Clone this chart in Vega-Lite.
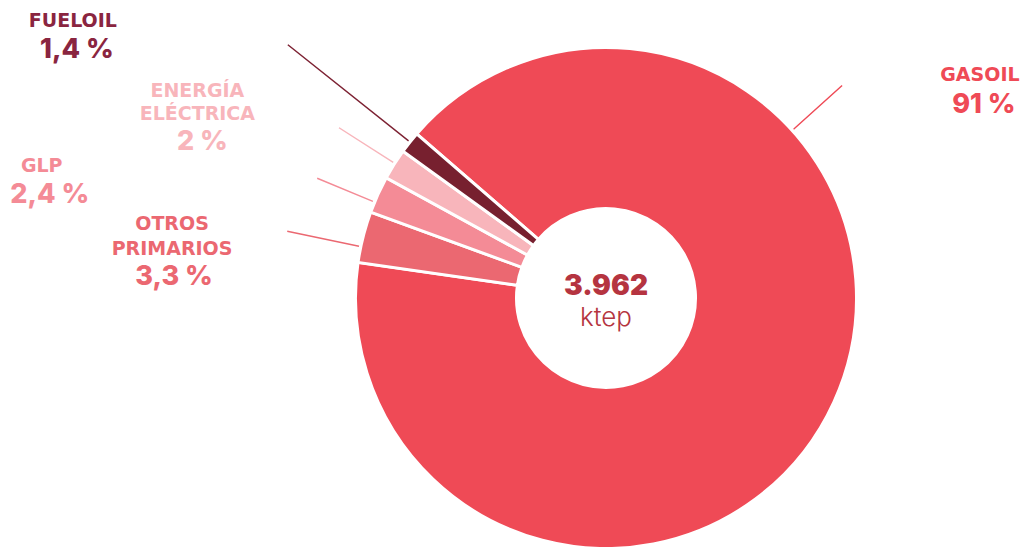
{
  "$schema": "https://vega.github.io/schema/vega-lite/v6.json",
  "width": 500,
  "height": 496,
  "padding": {"left": 356, "top": 50, "right": 165, "bottom": 1},
  "autosize": {"type": "none"},
  "background": "white",
  "config": {"view": {"stroke": null}, "font": "Inter"},
  "data": {"values": [
    {"cat": "GASOIL", "value": 91, "name": "GASOIL", "pct": "91 %"},
    {"cat": "OTROS", "value": 3.3, "name": ["OTROS", "PRIMARIOS"], "pct": "3,3 %"},
    {"cat": "GLP", "value": 2.4, "name": "GLP", "pct": "2,4 %"},
    {"cat": "ENERGIA", "value": 2, "name": ["ENERGÍA", "ELÉCTRICA"], "pct": "2 %"},
    {"cat": "FUELOIL", "value": 1.4, "name": "FUELOIL", "pct": "1,4 %"}
  ]},
  "layer": [
    {
      "mark": {"type": "arc", "outerRadius": 250.5, "innerRadius": 89.5, "stroke": "white", "strokeWidth": 3},
      "encoding": {
        "theta": {"field": "value", "type": "quantitative", "stack": true, "scale": {"domain": [0, 100.1], "range": [5.42626, 11.70945]}},
        "order": {"field": "value", "type": "quantitative", "sort": "descending"},
        "color": {"field": "cat", "type": "nominal", "legend": null,
          "scale": {"domain": ["GASOIL", "OTROS", "GLP", "ENERGIA", "FUELOIL"], "range": ["#EF4A56", "#EB6871", "#F48B96", "#F8B5BB", "#77202F"]}}
      }
    },
    {
      "transform": [{"stack": "value", "groupby": [], "sort": [{"field": "value", "order": "descending"}], "as": ["v0", "v1"]}, {"filter": "datum.cat === 'GASOIL'"}],
      "mark": {"type": "arc", "innerRadius": 253, "outerRadius": 317, "thetaOffset": 1.69468, "theta2Offset": 1.69508, "fillOpacity": 0, "stroke": "#EF4A56", "strokeWidth": 1.3},
      "encoding": {"theta": {"field": "v0", "type": "quantitative", "stack": null}, "theta2": {"field": "v0"}}
    },
    {
      "transform": [{"stack": "value", "groupby": [], "sort": [{"field": "value", "order": "descending"}], "as": ["v0", "v1"]}, {"filter": "datum.cat === 'OTROS'"}],
      "mark": {"type": "arc", "innerRadius": 253, "outerRadius": 325, "thetaOffset": 0.06346, "theta2Offset": 0.06386, "fillOpacity": 0, "stroke": "#EB6871", "strokeWidth": 1.3},
      "encoding": {"theta": {"field": "v0", "type": "quantitative", "stack": null}, "theta2": {"field": "v0"}}
    },
    {
      "transform": [{"stack": "value", "groupby": [], "sort": [{"field": "value", "order": "descending"}], "as": ["v0", "v1"]}, {"filter": "datum.cat === 'GLP'"}],
      "mark": {"type": "arc", "innerRadius": 253, "outerRadius": 312, "thetaOffset": 0.04307, "theta2Offset": 0.04347, "fillOpacity": 0, "stroke": "#F48B96", "strokeWidth": 1.3},
      "encoding": {"theta": {"field": "v0", "type": "quantitative", "stack": null}, "theta2": {"field": "v0"}}
    },
    {
      "transform": [{"stack": "value", "groupby": [], "sort": [{"field": "value", "order": "descending"}], "as": ["v0", "v1"]}, {"filter": "datum.cat === 'ENERGIA'"}],
      "mark": {"type": "arc", "innerRadius": 253, "outerRadius": 316, "thetaOffset": 0.06695, "theta2Offset": 0.06735, "fillOpacity": 0, "stroke": "#F8B5BB", "strokeWidth": 1.3},
      "encoding": {"theta": {"field": "v0", "type": "quantitative", "stack": null}, "theta2": {"field": "v0"}}
    },
    {
      "transform": [{"stack": "value", "groupby": [], "sort": [{"field": "value", "order": "descending"}], "as": ["v0", "v1"]}, {"filter": "datum.cat === 'FUELOIL'"}],
      "mark": {"type": "arc", "innerRadius": 253, "outerRadius": 406, "thetaOffset": 0.04614, "theta2Offset": 0.04654, "fillOpacity": 0, "stroke": "#7D2233", "strokeWidth": 1.3},
      "encoding": {"theta": {"field": "v0", "type": "quantitative", "stack": null}, "theta2": {"field": "v0"}}
    },
    {
      "mark": {"type": "text", "radius": 300, "dx": 101, "dy": -342, "font": "DejaVu Sans", "fontSize": 19, "fontWeight": 700, "color": "#EF4A56", "align": "center", "baseline": "alphabetic"},
      "encoding": {
        "theta": {"field": "value", "type": "quantitative", "stack": true},
        "order": {"field": "value", "type": "quantitative", "sort": "descending"},
        "text": {"condition": {"test": "datum.cat === 'GASOIL'", "field": "name", "type": "nominal"}, "value": ""}
      }
    },
    {
      "mark": {"type": "text", "radius": 300, "dx": 105, "dy": -310, "fontSize": 27, "fontWeight": 800, "color": "#EF4A56", "align": "center", "baseline": "alphabetic"},
      "encoding": {
        "theta": {"field": "value", "type": "quantitative", "stack": true},
        "order": {"field": "value", "type": "quantitative", "sort": "descending"},
        "text": {"condition": {"test": "datum.cat === 'GASOIL'", "field": "pct", "type": "nominal"}, "value": ""}
      }
    },
    {
      "mark": {"type": "text", "radius": 300, "dx": -143, "dy": 5, "font": "DejaVu Sans", "fontSize": 19, "fontWeight": 700, "lineHeight": 25, "color": "#EB6871", "align": "center", "baseline": "alphabetic"},
      "encoding": {
        "theta": {"field": "value", "type": "quantitative", "stack": true},
        "order": {"field": "value", "type": "quantitative", "sort": "descending"},
        "text": {"condition": {"test": "datum.cat === 'OTROS'", "field": "name", "type": "nominal"}, "value": ""}
      }
    },
    {
      "mark": {"type": "text", "radius": 300, "dx": -141, "dy": 60, "fontSize": 27, "fontWeight": 800, "color": "#EB6871", "align": "center", "baseline": "alphabetic"},
      "encoding": {
        "theta": {"field": "value", "type": "quantitative", "stack": true},
        "order": {"field": "value", "type": "quantitative", "sort": "descending"},
        "text": {"condition": {"test": "datum.cat === 'OTROS'", "field": "pct", "type": "nominal"}, "value": ""}
      }
    },
    {
      "mark": {"type": "text", "radius": 300, "dx": -291, "dy": -2, "font": "DejaVu Sans", "fontSize": 19, "fontWeight": 700, "color": "#F48B96", "align": "center", "baseline": "alphabetic"},
      "encoding": {
        "theta": {"field": "value", "type": "quantitative", "stack": true},
        "order": {"field": "value", "type": "quantitative", "sort": "descending"},
        "text": {"condition": {"test": "datum.cat === 'GLP'", "field": "name", "type": "nominal"}, "value": ""}
      }
    },
    {
      "mark": {"type": "text", "radius": 300, "dx": -283, "dy": 29, "fontSize": 27, "fontWeight": 800, "color": "#F48B96", "align": "center", "baseline": "alphabetic"},
      "encoding": {
        "theta": {"field": "value", "type": "quantitative", "stack": true},
        "order": {"field": "value", "type": "quantitative", "sort": "descending"},
        "text": {"condition": {"test": "datum.cat === 'GLP'", "field": "pct", "type": "nominal"}, "value": ""}
      }
    },
    {
      "mark": {"type": "text", "radius": 300, "dx": -155, "dy": -41, "font": "DejaVu Sans", "fontSize": 19, "fontWeight": 700, "lineHeight": 23, "color": "#F8B5BB", "align": "center", "baseline": "alphabetic"},
      "encoding": {
        "theta": {"field": "value", "type": "quantitative", "stack": true},
        "order": {"field": "value", "type": "quantitative", "sort": "descending"},
        "text": {"condition": {"test": "datum.cat === 'ENERGIA'", "field": "name", "type": "nominal"}, "value": ""}
      }
    },
    {
      "mark": {"type": "text", "radius": 300, "dx": -150, "dy": 12, "fontSize": 27, "fontWeight": 800, "color": "#F8B5BB", "align": "center", "baseline": "alphabetic"},
      "encoding": {
        "theta": {"field": "value", "type": "quantitative", "stack": true},
        "order": {"field": "value", "type": "quantitative", "sort": "descending"},
        "text": {"condition": {"test": "datum.cat === 'ENERGIA'", "field": "pct", "type": "nominal"}, "value": ""}
      }
    },
    {
      "mark": {"type": "text", "radius": 300, "dx": -298, "dy": -85, "font": "DejaVu Sans", "fontSize": 19, "fontWeight": 700, "color": "#8A2540", "align": "center", "baseline": "alphabetic"},
      "encoding": {
        "theta": {"field": "value", "type": "quantitative", "stack": true},
        "order": {"field": "value", "type": "quantitative", "sort": "descending"},
        "text": {"condition": {"test": "datum.cat === 'FUELOIL'", "field": "name", "type": "nominal"}, "value": ""}
      }
    },
    {
      "mark": {"type": "text", "radius": 300, "dx": -294, "dy": -54, "fontSize": 27, "fontWeight": 800, "color": "#8A2540", "align": "center", "baseline": "alphabetic"},
      "encoding": {
        "theta": {"field": "value", "type": "quantitative", "stack": true},
        "order": {"field": "value", "type": "quantitative", "sort": "descending"},
        "text": {"condition": {"test": "datum.cat === 'FUELOIL'", "field": "pct", "type": "nominal"}, "value": ""}
      }
    },
    {
      "data": {"values": [{"total": "3.962", "unit": "ktep"}]},
      "mark": {"type": "text", "dy": -3, "fontSize": 28, "fontWeight": 900, "color": "#B53440", "align": "center", "baseline": "alphabetic"},
      "encoding": {"text": {"field": "total", "type": "nominal"}}
    },
    {
      "data": {"values": [{"total": "3.962", "unit": "ktep"}]},
      "mark": {"type": "text", "dy": 28, "fontSize": 26, "fontWeight": 300, "color": "#B53440", "align": "center", "baseline": "alphabetic"},
      "encoding": {"text": {"field": "unit", "type": "nominal"}}
    }
  ]
}
